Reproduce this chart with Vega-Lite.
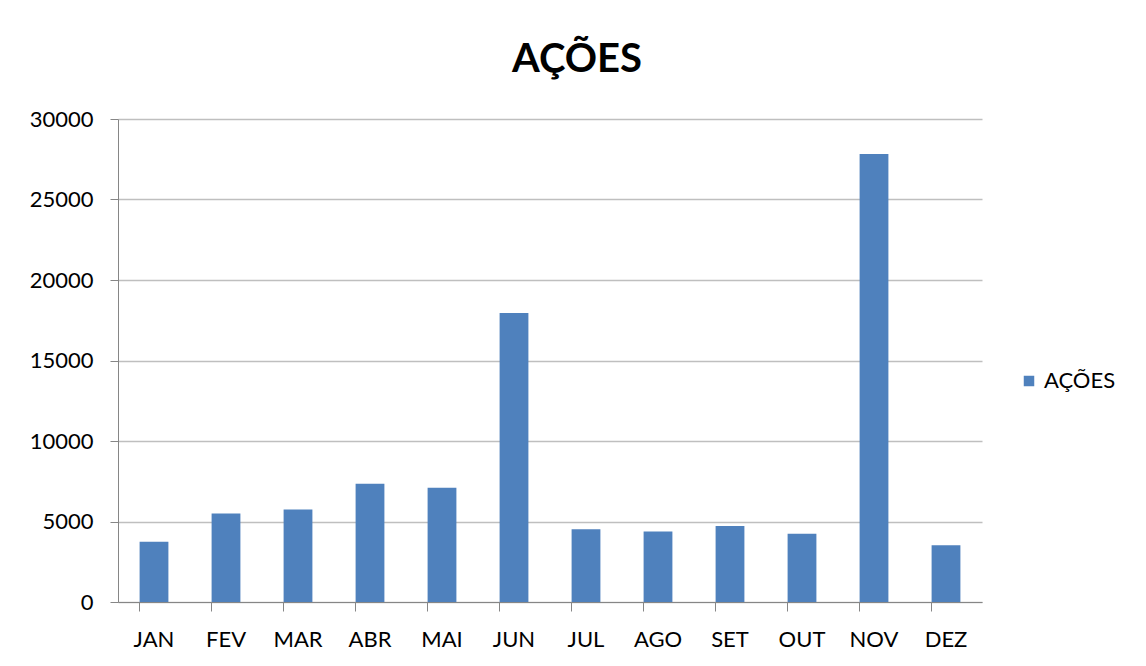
{
  "$schema": "https://vega.github.io/schema/vega-lite/v6.json",
  "autosize": "none",
  "width": 864,
  "height": 483,
  "padding": {"left": 118, "top": 119, "right": 164, "bottom": 64},
  "background": "white",
  "title": {
    "text": "AÇÕES",
    "font": "Lato",
    "fontSize": 40,
    "fontWeight": "bold",
    "color": "#000000",
    "anchor": "middle",
    "dx": 27,
    "offset": 28
  },
  "data": {
    "values": [
      {"mes": "JAN", "valor": 3750, "serie": "AÇÕES"},
      {"mes": "FEV", "valor": 5500, "serie": "AÇÕES"},
      {"mes": "MAR", "valor": 5750, "serie": "AÇÕES"},
      {"mes": "ABR", "valor": 7350, "serie": "AÇÕES"},
      {"mes": "MAI", "valor": 7100, "serie": "AÇÕES"},
      {"mes": "JUN", "valor": 17950, "serie": "AÇÕES"},
      {"mes": "JUL", "valor": 4520, "serie": "AÇÕES"},
      {"mes": "AGO", "valor": 4380, "serie": "AÇÕES"},
      {"mes": "SET", "valor": 4720, "serie": "AÇÕES"},
      {"mes": "OUT", "valor": 4240, "serie": "AÇÕES"},
      {"mes": "NOV", "valor": 27830, "serie": "AÇÕES"},
      {"mes": "DEZ", "valor": 3520, "serie": "AÇÕES"}
    ]
  },
  "mark": {"type": "bar"},
  "encoding": {
    "x": {
      "field": "mes",
      "type": "nominal",
      "sort": null,
      "scale": {"paddingInner": 0.6, "paddingOuter": 0.3},
      "axis": {
        "title": null,
        "labelAngle": 0,
        "labelFont": "Lato",
        "labelFontSize": 22,
        "labelColor": "#000000",
        "labelPadding": 18,
        "tickSize": 9,
        "tickColor": "#868686",
        "domainColor": "#868686",
        "bandPosition": 0,
        "grid": false
      }
    },
    "y": {
      "field": "valor",
      "type": "quantitative",
      "scale": {"domain": [0, 30000], "nice": false},
      "axis": {
        "title": null,
        "values": [0, 5000, 10000, 15000, 20000, 25000, 30000],
        "format": "d",
        "labelFont": "Lato",
        "labelFontSize": 22,
        "labelColor": "#000000",
        "labelPadding": 17,
        "tickSize": 8,
        "tickColor": "#868686",
        "domainColor": "#868686",
        "gridColor": "#BFBFBF",
        "gridWidth": 1.5
      }
    },
    "color": {
      "field": "serie",
      "type": "nominal",
      "scale": {"range": ["#4F81BD"]},
      "legend": {
        "title": null,
        "orient": "none",
        "legendX": 900,
        "legendY": 251,
        "symbolType": "square",
        "symbolSize": 110,
        "labelFont": "Lato",
        "labelFontSize": 22,
        "labelColor": "#000000"
      }
    }
  },
  "config": {
    "view": {"stroke": null}
  }
}
